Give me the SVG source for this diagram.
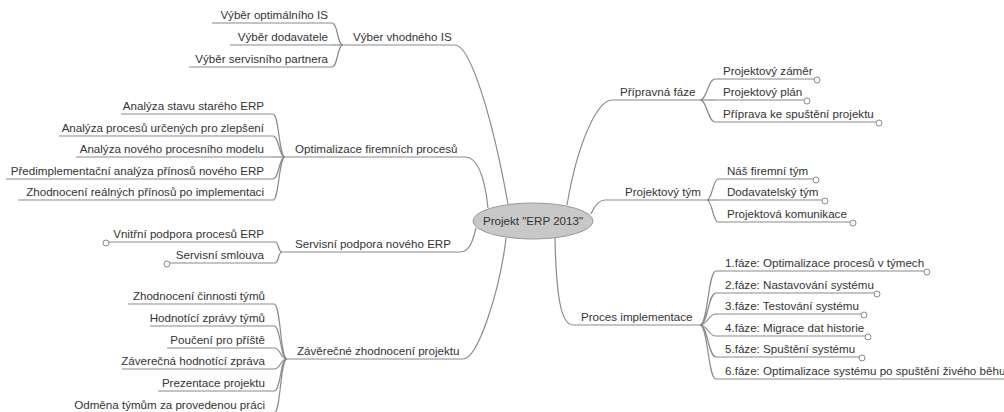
<svg xmlns="http://www.w3.org/2000/svg" width="1004" height="412" viewBox="0 0 1004 412">
<style>
text{font-family:"Liberation Sans",Arial,sans-serif;font-size:11.6px;fill:#333}
.e{text-anchor:end}
.m{text-anchor:middle}
line,path{stroke:#8a8a8a;stroke-width:1.2;fill:none}
circle.k{fill:#fff;stroke:#8a8a8a;stroke-width:1}
</style>
<rect width="1004" height="412" fill="#fff"/>
<g id="connectors">
<!-- root to main topics -->
<path d="M455,45 C470,45 492,115 508,204"/>
<path d="M465,157 C478,157 485,180 488,208"/>
<path d="M460,252 C470,252 473,240 476,228"/>
<path d="M463,359 C478,359 500,290 506,238"/>
<path d="M612,100 C598,100 578,140 567,205"/>
<path d="M605,200 C598,200 594,207 591,214"/>
<path d="M573,325 C560,325 556,290 555,238"/>
<!-- Vyber children -->
<path d="M332,23 C338,23 337,45 343,45"/>
<path d="M332,45 L343,45"/>
<path d="M332,67 C338,67 337,45 343,45"/>
<!-- Optimalizace children -->
<path d="M273,114 C279,114 279,157 285,157"/>
<path d="M273,136 C279,136 279,157 285,157"/>
<path d="M273,157 L285,157"/>
<path d="M273,179 C279,179 279,157 285,157"/>
<path d="M273,200 C279,200 279,157 285,157"/>
<!-- Servisni children -->
<path d="M275,242 C279,242 278,252 282,252"/>
<path d="M275,263 C279,263 278,252 282,252"/>
<!-- Zaverecne children -->
<path d="M274,304 C281,304 280,359 287,359"/>
<path d="M274,326 C281,326 280,359 287,359"/>
<path d="M274,348 C281,348 280,359 287,359"/>
<path d="M274,369 C281,369 280,359 287,359"/>
<path d="M274,391 C281,391 280,359 287,359"/>
<path d="M274,413 C281,413 280,359 287,359"/>
<!-- Pripravna children -->
<path d="M700,100 C707,100 708,79 715,79"/>
<path d="M700,100 L715,100"/>
<path d="M700,100 C707,100 708,122 715,122"/>
<!-- Projektovy tym children -->
<path d="M707,200 C712,200 713,179 718,179"/>
<path d="M707,200 L718,200"/>
<path d="M707,200 C712,200 713,222 718,222"/>
<!-- Proces children -->
<path d="M700,325 C708,325 708,271 716,271"/>
<path d="M700,325 C708,325 708,293 716,293"/>
<path d="M700,325 C708,325 708,314 716,314"/>
<path d="M700,325 C708,325 708,336 716,336"/>
<path d="M700,325 C708,325 708,357 716,357"/>
<path d="M700,325 C708,325 708,379 716,379"/>
</g>

<g id="root">
<ellipse cx="533" cy="221" rx="60" ry="18" fill="#c8c8c8" stroke="#999" stroke-width="1"/>
<text class="m" x="533" y="225">Projekt "ERP 2013"</text>
</g>

<g id="vyber-is">
<line x1="343" y1="45" x2="455" y2="45"/>
<text x="353" y="41">Výber vhodného IS</text>
</g>
<g id="vyber-optimalniho">
<line x1="212" y1="23" x2="332" y2="23"/>
<text class="e" x="328" y="19">Výběr optimálního IS</text>
</g>
<g id="vyber-dodavatele">
<line x1="230" y1="45" x2="332" y2="45"/>
<text class="e" x="328" y="41">Výběr dodavatele</text>
</g>
<g id="vyber-partnera">
<line x1="189" y1="67" x2="332" y2="67"/>
<text class="e" x="328" y="63">Výběr servisního partnera</text>
</g>

<g id="optimalizace">
<line x1="285" y1="157" x2="465" y2="157"/>
<text x="295" y="153">Optimalizace firemních procesů</text>
</g>
<g id="analyza-stavu">
<line x1="121" y1="114" x2="273" y2="114"/>
<text class="e" x="264" y="110">Analýza stavu starého ERP</text>
</g>
<g id="analyza-procesu">
<line x1="59" y1="136" x2="273" y2="136"/>
<text class="e" x="264" y="132">Analýza procesů určených pro zlepšení</text>
</g>
<g id="analyza-modelu">
<line x1="76" y1="157" x2="273" y2="157"/>
<text class="e" x="264" y="153">Analýza nového procesního modelu</text>
</g>
<g id="predimplementacni">
<line x1="6" y1="179" x2="273" y2="179"/>
<text class="e" x="264" y="175">Předimplementační analýza přínosů nového ERP</text>
</g>
<g id="zhodnoceni-prinosu">
<line x1="18" y1="200" x2="273" y2="200"/>
<text class="e" x="264" y="196">Zhodnocení reálných přínosů po implementaci</text>
</g>

<g id="servisni-podpora">
<line x1="282" y1="252" x2="460" y2="252"/>
<text x="295" y="248">Servisní podpora nového ERP</text>
</g>
<g id="vnitrni-podpora">
<line x1="109" y1="242" x2="275" y2="242"/>
<circle class="k" cx="106" cy="243" r="3"/>
<text class="e" x="264" y="238">Vnitřní podpora procesů ERP</text>
</g>
<g id="servisni-smlouva">
<line x1="170" y1="263" x2="275" y2="263"/>
<circle class="k" cx="167" cy="264" r="3"/>
<text class="e" x="264" y="259">Servisní smlouva</text>
</g>

<g id="zaverecne">
<line x1="287" y1="359" x2="463" y2="359"/>
<text x="297" y="355">Závěrečné zhodnocení projektu</text>
</g>
<g id="zhodnoceni-cinnosti">
<line x1="128" y1="304" x2="274" y2="304"/>
<text class="e" x="265" y="300">Zhodnocení činnosti týmů</text>
</g>
<g id="hodnotici-zpravy">
<line x1="150" y1="326" x2="274" y2="326"/>
<text class="e" x="265" y="322">Hodnotící zprávy týmů</text>
</g>
<g id="pouceni">
<line x1="167" y1="348" x2="274" y2="348"/>
<text class="e" x="265" y="344">Poučení pro příště</text>
</g>
<g id="zaverecna-zprava">
<line x1="122" y1="369" x2="274" y2="369"/>
<text class="e" x="265" y="365">Záverečná hodnotící zpráva</text>
</g>
<g id="prezentace">
<line x1="158" y1="391" x2="274" y2="391"/>
<text class="e" x="265" y="387">Prezentace projektu</text>
</g>
<g id="odmena">
<line x1="72" y1="413" x2="274" y2="413"/>
<text class="e" x="265" y="409">Odměna týmům za provedenou práci</text>
</g>

<g id="pripravna">
<line x1="612" y1="100" x2="700" y2="100"/>
<text x="620" y="96">Přípravná fáze</text>
</g>
<g id="zamer">
<line x1="715" y1="79" x2="814" y2="79"/>
<circle class="k" cx="817" cy="80" r="3"/>
<text x="723" y="75">Projektový záměr</text>
</g>
<g id="plan">
<line x1="715" y1="100" x2="804" y2="100"/>
<circle class="k" cx="807" cy="101" r="3"/>
<text x="723" y="96">Projektový plán</text>
</g>
<g id="priprava">
<line x1="715" y1="122" x2="876" y2="122"/>
<circle class="k" cx="879" cy="123" r="3"/>
<text x="723" y="118">Příprava ke spuštění projektu</text>
</g>

<g id="projektovy-tym">
<line x1="605" y1="200" x2="707" y2="200"/>
<text x="625" y="196">Projektový tým</text>
</g>
<g id="nas-tym">
<line x1="718" y1="179" x2="813" y2="179"/>
<circle class="k" cx="816" cy="180" r="3"/>
<text x="727" y="175">Náš firemní tým</text>
</g>
<g id="dodavatelsky-tym">
<line x1="718" y1="200" x2="822" y2="200"/>
<circle class="k" cx="825" cy="201" r="3"/>
<text x="727" y="196">Dodavatelský tým</text>
</g>
<g id="komunikace">
<line x1="718" y1="222" x2="850" y2="222"/>
<circle class="k" cx="853" cy="223" r="3"/>
<text x="727" y="218">Projektová komunikace</text>
</g>

<g id="proces">
<line x1="573" y1="325" x2="700" y2="325"/>
<text x="581" y="321">Proces implementace</text>
</g>
<g id="faze1">
<line x1="716" y1="271" x2="924" y2="271"/>
<circle class="k" cx="927" cy="272" r="3"/>
<text x="725" y="267">1.fáze: Optimalizace procesů v týmech</text>
</g>
<g id="faze2">
<line x1="716" y1="293" x2="874" y2="293"/>
<circle class="k" cx="877" cy="294" r="3"/>
<text x="725" y="289">2.fáze: Nastavování systému</text>
</g>
<g id="faze3">
<line x1="716" y1="314" x2="861" y2="314"/>
<circle class="k" cx="864" cy="315" r="3"/>
<text x="725" y="310">3.fáze: Testování systému</text>
</g>
<g id="faze4">
<line x1="716" y1="336" x2="865" y2="336"/>
<circle class="k" cx="868" cy="337" r="3"/>
<text x="725" y="332">4.fáze: Migrace dat historie</text>
</g>
<g id="faze5">
<line x1="716" y1="357" x2="859" y2="357"/>
<circle class="k" cx="862" cy="358" r="3"/>
<text x="725" y="353">5.fáze: Spuštění systému</text>
</g>
<g id="faze6">
<line x1="716" y1="379" x2="1010" y2="379"/>
<text x="725" y="375">6.fáze: Optimalizace systému po spuštění živého běhu</text>
</g>
</svg>
